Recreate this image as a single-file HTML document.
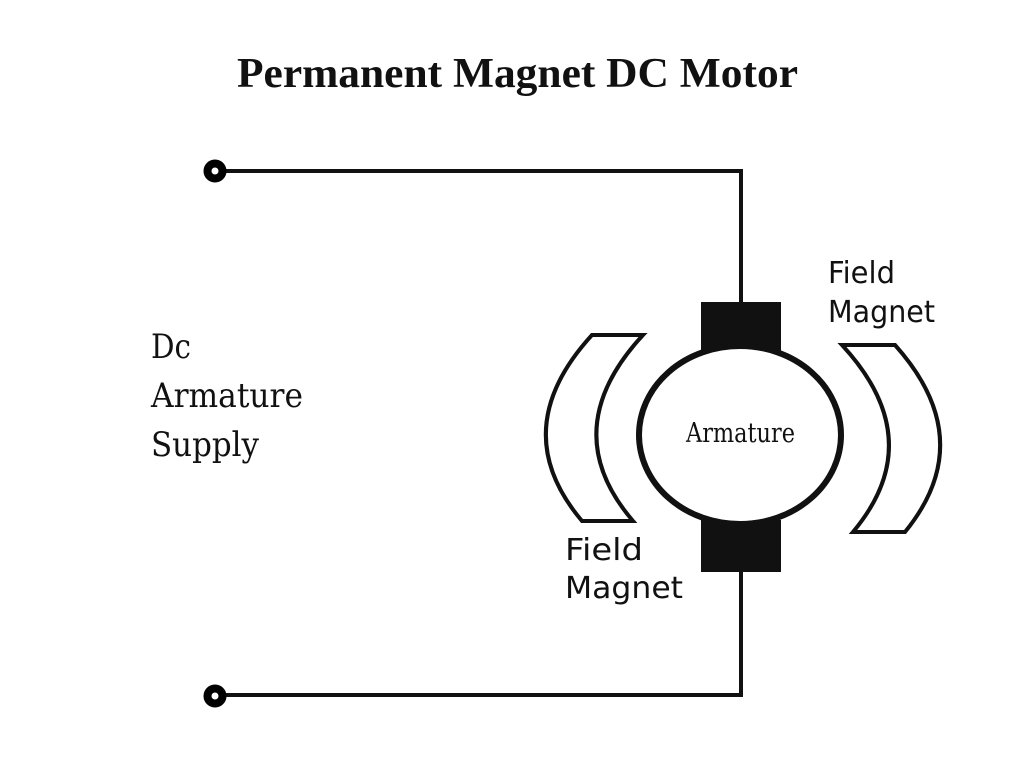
<!DOCTYPE html>
<html><head><meta charset="utf-8"><style>html,body{margin:0;padding:0;background:#fff}svg{display:block}</style></head>
<body>
<svg width="1024" height="768" viewBox="0 0 1024 768" xmlns="http://www.w3.org/2000/svg">
<rect width="1024" height="768" fill="#fff"/>
<text x="237" y="87" font-family="Liberation Serif, serif" font-weight="bold" font-size="42" textLength="561" lengthAdjust="spacingAndGlyphs" fill="#111">Permanent Magnet DC Motor</text>
<g fill="none" stroke="#111" stroke-width="4">
<polyline points="222,171 741,171 741,304"/>
<polyline points="741,570 741,695 222,695"/>
</g>
<circle cx="215" cy="171" r="7.5" fill="#fff" stroke="#000" stroke-width="8"/>
<circle cx="215" cy="696" r="7.5" fill="#fff" stroke="#000" stroke-width="8"/>
<rect x="701" y="302" width="80" height="50" fill="#111"/>
<rect x="701" y="520" width="80" height="52" fill="#111"/>
<ellipse cx="740" cy="435" rx="101" ry="89" fill="#fff" stroke="#111" stroke-width="6"/>
<g fill="#fff" stroke="#111" stroke-width="4" stroke-linejoin="miter">
<path d="M592,335 L643,335 Q555,430 633,521 L582,521 Q505,430 592,335 Z"/>
<path d="M842,345 L895,345 Q980,440 905,532 L853,532 Q930,440 842,345 Z"/>
</g>
<g font-family="DejaVu Serif, Liberation Serif, serif" fill="#111">
<text x="151" y="358" font-size="34" textLength="40" lengthAdjust="spacingAndGlyphs">Dc</text>
<text x="151" y="407" font-size="34" textLength="152" lengthAdjust="spacingAndGlyphs">Armature</text>
<text x="151" y="456" font-size="34" textLength="108" lengthAdjust="spacingAndGlyphs">Supply</text>
<text x="686" y="442" font-size="27" textLength="109" lengthAdjust="spacingAndGlyphs">Armature</text>
</g>
<g font-family="DejaVu Sans, Liberation Sans, sans-serif" fill="#111" font-size="30">
<text x="828" y="283" textLength="67" lengthAdjust="spacingAndGlyphs">Field</text>
<text x="828" y="322" textLength="107" lengthAdjust="spacingAndGlyphs">Magnet</text>
<text x="565" y="560" textLength="78" lengthAdjust="spacingAndGlyphs">Field</text>
<text x="565" y="598" textLength="118" lengthAdjust="spacingAndGlyphs">Magnet</text>
</g>
</svg>
</body></html>
